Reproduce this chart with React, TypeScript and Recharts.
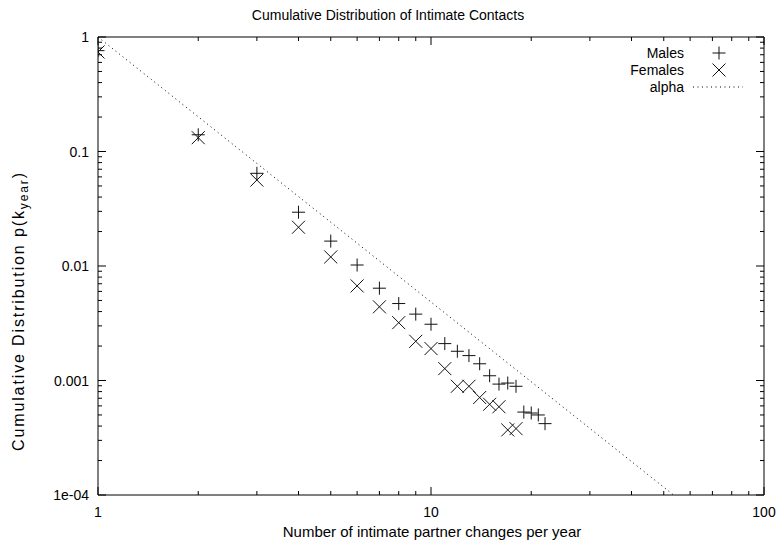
import React from 'react';
import { ComposedChart, Scatter, Line, XAxis, YAxis } from 'recharts';

// ---- data ----
const maleX = [1, 2, 3, 4, 5, 6, 7, 8, 9, 10, 11, 12, 13, 14, 15, 16, 17, 18, 19, 20, 21, 22];
const maleY = [0.76, 0.14, 0.0645, 0.0295, 0.0165, 0.0102, 0.0064, 0.0047, 0.0038, 0.0031, 0.0021, 0.0018, 0.00165, 0.0014, 0.0011, 0.00093, 0.00095, 0.00089, 0.00053, 0.00052, 0.0005, 0.00042];
const femaleX = [1, 2, 3, 4, 5, 6, 7, 8, 9, 10, 11, 12, 13, 14, 15, 16, 17, 18];
const femaleY = [0.74, 0.132, 0.0563, 0.0218, 0.012, 0.0067, 0.0044, 0.0032, 0.0022, 0.0019, 0.00127, 0.00089, 0.00089, 0.00071, 0.00062, 0.00059, 0.00037, 0.00038];
const alphaX = [1, 53.5];
const alphaY = [1, 0.0001];

const xMajorTicks = [1, 10, 100];
const xMajorLabels = ['1', '10', '100'];
const xMinorTicks = [2, 3, 4, 5, 6, 7, 8, 9, 20, 30, 40, 50, 60, 70, 80, 90];
const yMajorTicks = [0.0001, 0.001, 0.01, 0.1, 1];
const yMajorLabels = ['1e-04', '0.001', '0.01', '0.1', '1'];
const yMinorTicks = [
  0.0002, 0.0003, 0.0004, 0.0005, 0.0006, 0.0007, 0.0008, 0.0009,
  0.002, 0.003, 0.004, 0.005, 0.006, 0.007, 0.008, 0.009,
  0.02, 0.03, 0.04, 0.05, 0.06, 0.07, 0.08, 0.09,
  0.2, 0.3, 0.4, 0.5, 0.6, 0.7, 0.8, 0.9,
];

const TITLE = 'Cumulative Distribution of Intimate Contacts';
const X_LABEL = 'Number of intimate partner changes per year';
const SERIES_NAMES = ['Males', 'Females', 'alpha'];

const males = maleX.map((x, i) => ({ x, y: maleY[i] }));
const females = femaleX.map((x, i) => ({ x, y: femaleY[i] }));
const alpha = alphaX.map((x, i) => ({ x, y: alphaY[i] }));

const xTicks = [...xMajorTicks, ...xMinorTicks].sort((a, b) => a - b);
const yTicks = [...yMajorTicks, ...yMinorTicks].sort((a, b) => a - b);

const W = 776;
const H = 546;
const FONT = '"Liberation Sans", Arial, Helvetica, sans-serif';
const MAJ = 8;
const MIN = 4;
const ARM = 6.5;

const isMajorX = (v: number) => xMajorTicks.indexOf(v) >= 0;
const majorYIndex = (v: number) => yMajorTicks.findIndex((t) => Math.abs(t - v) / t < 1e-6);

const PlusMark = ({ cx, cy }: { cx: number; cy: number }) => (
  <g stroke="#111" strokeWidth={1}>
    <line x1={cx - ARM} x2={cx + ARM} y1={cy} y2={cy} />
    <line x1={cx} x2={cx} y1={cy - ARM} y2={cy + ARM} />
  </g>
);
const CrossMark = ({ cx, cy }: { cx: number; cy: number }) => (
  <g stroke="#111" strokeWidth={1}>
    <line x1={cx - ARM} x2={cx + ARM} y1={cy - ARM} y2={cy + ARM} />
    <line x1={cx - ARM} x2={cx + ARM} y1={cy + ARM} y2={cy - ARM} />
  </g>
);

const BottomTick = (p: any) => {
  const v = p.payload.value;
  const mi = xMajorTicks.indexOf(v);
  const len = mi >= 0 ? MAJ : MIN;
  return (
    <g>
      <line x1={p.x} x2={p.x} y1={p.y} y2={p.y - len} stroke="#000" />
      {mi >= 0 && (
        <text x={p.x} y={p.y + 22} textAnchor="middle" fontSize={14} fill="#000" fontFamily={FONT}>
          {xMajorLabels[mi]}
        </text>
      )}
    </g>
  );
};
const TopTick = (p: any) => {
  const len = isMajorX(p.payload.value) ? MAJ : MIN;
  return <line x1={p.x} x2={p.x} y1={p.y} y2={p.y + len} stroke="#000" />;
};
const LeftTick = (p: any) => {
  const mi = majorYIndex(p.payload.value);
  const len = mi >= 0 ? MAJ : MIN;
  return (
    <g>
      <line x1={p.x} x2={p.x + len} y1={p.y} y2={p.y} stroke="#000" />
      {mi >= 0 && (
        <text x={p.x - 9} y={p.y + 5} textAnchor="end" fontSize={14} fill="#000" fontFamily={FONT}>
          {yMajorLabels[mi]}
        </text>
      )}
    </g>
  );
};
const RightTick = (p: any) => {
  const len = majorYIndex(p.payload.value) >= 0 ? MAJ : MIN;
  return <line x1={p.x} x2={p.x - len} y1={p.y} y2={p.y} stroke="#000" />;
};

export default function App() {
  return (
    <div style={{ position: 'absolute', left: 0, top: 0, width: W, height: H, background: '#fff', fontFamily: FONT }}>
      <ComposedChart width={W} height={H} margin={{ top: 0, right: 0, bottom: 0, left: 0 }}>
        <XAxis
          xAxisId="b"
          dataKey="x"
          type="number"
          scale="log"
          domain={[1, 100]}
          allowDataOverflow
          ticks={xTicks}
          interval={0}
          height={51}
          tickSize={0}
          tickMargin={0}
          tickLine={false}
          axisLine={{ stroke: '#000' }}
          tick={BottomTick}
        />
        <XAxis
          xAxisId="t"
          orientation="top"
          dataKey="x"
          type="number"
          scale="log"
          domain={[1, 100]}
          allowDataOverflow
          ticks={xTicks}
          interval={0}
          height={37}
          tickSize={0}
          tickMargin={0}
          tickLine={false}
          axisLine={{ stroke: '#000' }}
          tick={TopTick}
        />
        <YAxis
          yAxisId="l"
          dataKey="y"
          type="number"
          scale="log"
          domain={[0.0001, 1]}
          allowDataOverflow
          ticks={yTicks}
          interval={0}
          width={98}
          tickSize={0}
          tickMargin={0}
          tickLine={false}
          axisLine={{ stroke: '#000' }}
          tick={LeftTick}
        />
        <YAxis
          yAxisId="r"
          orientation="right"
          dataKey="y"
          type="number"
          scale="log"
          domain={[0.0001, 1]}
          allowDataOverflow
          ticks={yTicks}
          interval={0}
          width={12}
          tickSize={0}
          tickMargin={0}
          tickLine={false}
          axisLine={{ stroke: '#000' }}
          tick={RightTick}
        />
        <Line
          xAxisId="b"
          yAxisId="l"
          data={alpha}
          dataKey="y"
          type="linear"
          stroke="#000"
          strokeWidth={1}
          strokeDasharray="1 3.5"
          dot={false}
          activeDot={false}
          isAnimationActive={false}
          name={SERIES_NAMES[2]}
        />
        <Scatter
          xAxisId="b"
          yAxisId="l"
          data={males}
          dataKey="y"
          name={SERIES_NAMES[0]}
          isAnimationActive={false}
          shape={(p: any) => <PlusMark cx={p.cx} cy={p.cy} />}
        />
        <Scatter
          xAxisId="b"
          yAxisId="l"
          data={females}
          dataKey="y"
          name={SERIES_NAMES[1]}
          isAnimationActive={false}
          shape={(p: any) => <CrossMark cx={p.cx} cy={p.cy} />}
        />
      </ComposedChart>
      <svg
        width={W}
        height={H}
        style={{ position: 'absolute', left: 0, top: 0, pointerEvents: 'none' }}
        fontFamily={FONT}
      >
        <text x={388} y={20} textAnchor="middle" fontSize={14} fill="#000">{TITLE}</text>
        <text x={432} y={537} textAnchor="middle" fontSize={15} fill="#000">{X_LABEL}</text>
        <text
          transform="translate(24,312) rotate(-90)"
          textAnchor="middle"
          fontSize={16}
          fill="#000"
          textLength={278}
          lengthAdjust="spacing"
        >
          Cumulative Distribution p(k
          <tspan fontSize={12} dy={4}>year</tspan>
          <tspan dy={-4}>)</tspan>
        </text>
        <g fontSize={14} fill="#000">
          <text x={684} y={58} textAnchor="end">{SERIES_NAMES[0]}</text>
          <text x={684} y={75} textAnchor="end">{SERIES_NAMES[1]}</text>
          <text x={684} y={92} textAnchor="end">{SERIES_NAMES[2]}</text>
        </g>
        <PlusMark cx={719} cy={53} />
        <CrossMark cx={719} cy={70} />
        <line x1={693} x2={743} y1={87} y2={87} stroke="#000" strokeDasharray="1 3.5" />
      </svg>
    </div>
  );
}
